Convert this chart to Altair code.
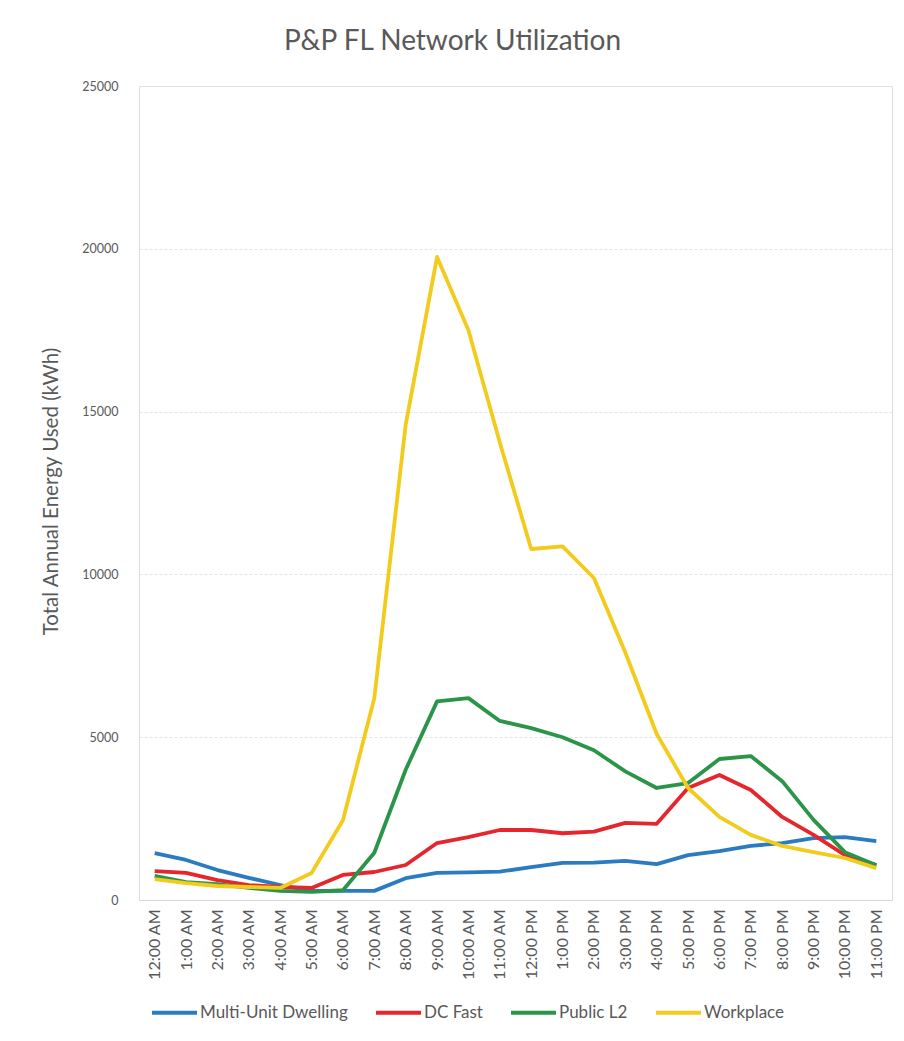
import altair as alt
import pandas as pd

hours = ["12:00 AM", "1:00 AM", "2:00 AM", "3:00 AM", "4:00 AM", "5:00 AM",
         "6:00 AM", "7:00 AM", "8:00 AM", "9:00 AM", "10:00 AM", "11:00 AM",
         "12:00 PM", "1:00 PM", "2:00 PM", "3:00 PM", "4:00 PM", "5:00 PM",
         "6:00 PM", "7:00 PM", "8:00 PM", "9:00 PM", "10:00 PM", "11:00 PM"]

series_names = ["Multi-Unit Dwelling", "DC Fast", "Public L2", "Workplace"]
series_colors = ["#2b7bc1", "#e5262d", "#2a9548", "#f2cb1d"]

multi_unit = [1440, 1230, 920, 680, 460, 280, 280, 280, 670, 830, 850, 870,
              1010, 1140, 1150, 1200, 1100, 1380, 1500, 1660, 1750, 1900, 1930, 1810]
dc_fast = [890, 830, 610, 460, 400, 370, 770, 860, 1075, 1750, 1930, 2150,
           2150, 2050, 2100, 2370, 2340, 3440, 3840, 3380, 2550, 2000, 1380, 1070]
public_l2 = [740, 550, 490, 370, 280, 250, 300, 1450, 4000, 6100, 6200, 5500,
             5280, 5000, 4600, 3950, 3440, 3590, 4330, 4420, 3650, 2460, 1470, 1070]
workplace = [640, 520, 430, 400, 370, 830, 2450, 6200, 14600, 19750, 17500, 14050,
             10780, 10860, 9890, 7600, 5100, 3440, 2550, 2000, 1660, 1470, 1290, 980]

y_ticks = [0, 5000, 10000, 15000, 20000, 25000]

rows = []
for name, vals in zip(series_names, [multi_unit, dc_fast, public_l2, workplace]):
    for h, v in zip(hours, vals):
        rows.append({"hour": h, "series": name, "kwh": v})
df = pd.DataFrame(rows)

FONT = "Lato"
TXT = "#595959"

chart = alt.Chart(df).mark_line(strokeWidth=3.8, strokeJoin="round").encode(
    x=alt.X("hour:N", sort=hours,
            scale=alt.Scale(type="point", padding=0.5),
            axis=alt.Axis(title=None, labelAngle=270, labelAlign="right",
                          labelBaseline="middle", labelPadding=9, ticks=False,
                          domainColor="#d9d9d9", labelFont=FONT, labelFontSize=16,
                          labelColor=TXT, grid=False)),
    y=alt.Y("kwh:Q", scale=alt.Scale(domain=[0, 25000], nice=False),
            axis=alt.Axis(title="Total Annual Energy Used (kWh)", values=y_ticks,
                          format="d", ticks=False, domain=False, labelPadding=21,
                          labelFont=FONT, labelFontSize=12.5, labelColor=TXT,
                          gridColor="#e3e3e3", gridDash=[3, 2], gridWidth=1,
                          titleFont=FONT, titleFontSize=20.5, titleFontWeight="normal",
                          titleColor=TXT, titleAngle=270, titleX=-88, titleY=405,
                          titleAlign="center", titleBaseline="middle")),
    color=alt.Color("series:N", sort=series_names,
                    scale=alt.Scale(domain=series_names, range=series_colors),
                    legend=alt.Legend(title=None, orient="none", direction="horizontal",
                                      legendX=11, legendY=902,
                                      symbolType="stroke", symbolSize=2025,
                                      symbolStrokeWidth=4, labelOffset=1,
                                      columnPadding=20, labelFont=FONT,
                                      labelFontSize=17, labelColor=TXT)),
).properties(
    width=753,
    height=814,
    title=alt.TitleParams("P&P FL Network Utilization", font=FONT, fontSize=28,
                          fontWeight="normal", color=TXT, anchor="middle",
                          offset=24, dx=-63),
    padding={"left": 139, "top": 86, "right": 12, "bottom": 141},
    autosize=alt.AutoSizeParams(type="none"),
).configure_view(stroke=None, strokeWidth=0).configure_axisX(grid=False).configure(background="white")

chart.save("out.html", embed_options={"renderer": "svg", "actions": False})
